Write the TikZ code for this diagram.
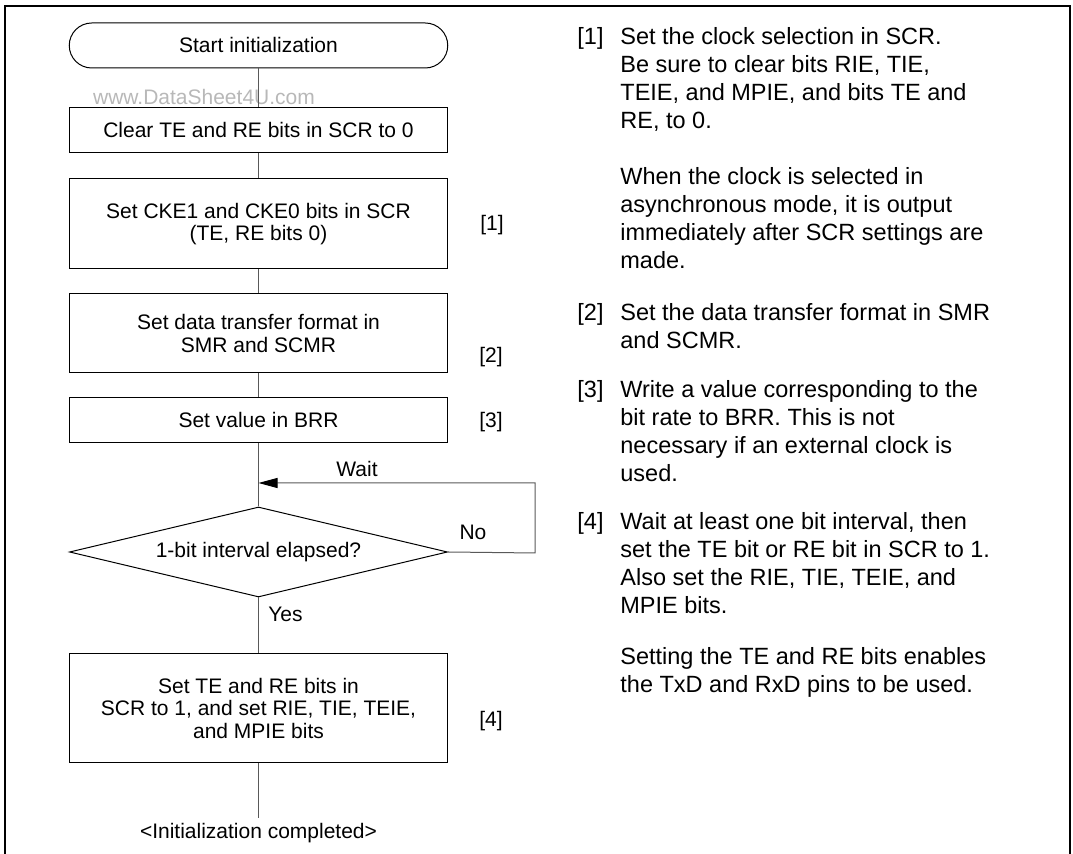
\documentclass[tikz,border=0pt]{standalone}
\usepackage{fontspec}
\setmainfont{Liberation Sans}
\usetikzlibrary{shapes.geometric, arrows.meta}

\tikzset{
    flowtext/.style={font=\fontsize{10.5}{11.2}\selectfont, align=center},
    procbox/.style={draw=black, line width=0.5pt, minimum width=189.25pt, inner sep=0pt, flowtext},
    flowline/.style={draw=black!65, line width=0.5pt},
    notetext/.style={font=\fontsize{11.75}{14}\selectfont, align=left, inner sep=0pt, anchor=north west},
}

\begin{document}
\begin{tikzpicture}[x=0.5pt, y=-0.5pt]
    \useasboundingbox (0,0) rectangle (1073,854);
    
    % frame, open at the bottom
    \draw[line width=1.25pt] (5,854) -- (5,6) -- (1070,6) -- (1070,854);
    
    \node[flowtext, text=black!28, inner sep=0pt] (wm) at (204,97) {www.DataSheet4U.com};
    
    % flow steps
    \node[procbox, rounded corners=11.25pt, minimum height=22.5pt] (start) at (258.5,45.5) {Start initialization};
    \node[procbox, minimum height=22.5pt] (clear) at (258.5,130.5) {Clear TE and RE bits in SCR to 0};
    \node[procbox, minimum height=45pt] (cke) at (258.5,224) {Set CKE1 and CKE0 bits in SCR\\(TE, RE bits 0)};
    \node[procbox, minimum height=39.5pt] (fmt) at (258.5,333.5) {Set data transfer format in\\SMR and SCMR};
    \node[procbox, minimum height=22.5pt] (brr) at (258.5,420.5) {Set value in BRR};
    \node[diamond, draw=black, line width=0.5pt, aspect=4.2, minimum width=189pt, minimum height=45pt,
          inner sep=0pt, flowtext] (elapsed) at (258.5,552) {1-bit interval elapsed?};
    \node[procbox, minimum height=54.5pt] (setbits) at (258.5,708.5) {Set TE and RE bits in\\SCR to 1, and set RIE, TIE, TEIE,\\and MPIE bits};
    \node[flowtext, inner sep=2.5pt] (done) at (258.5,833) {<Initialization completed>};
    
    \draw[flowline] (start) -- (clear);
    \draw[flowline] (clear) -- (cke);
    \draw[flowline] (cke) -- (fmt);
    \draw[flowline] (fmt) -- (brr);
    \draw[flowline] (brr) -- (elapsed);
    \draw[flowline] (elapsed) -- (setbits);
    \draw[flowline] (setbits) -- (done);
    
    % wait loop
    \coordinate (waitjoin) at (258.5,483);
    \coordinate (loopright) at (535,553);
    \draw[flowline, -{Triangle[length=9.5pt, width=5pt, color=black]}] (elapsed.east) -- (loopright) |- (waitjoin);
    
    \node[flowtext] (waitlbl) at (357,469) {Wait};
    \node[flowtext] (nolbl) at (473,532) {No};
    \node[flowtext, anchor=west, inner sep=0pt] (yeslbl) at (268,614) {Yes};
    
    \node[flowtext] (lbl1) at (492,225) {[1]};
    \node[flowtext] (lbl2) at (491,357) {[2]};
    \node[flowtext] (lbl3) at (491,422) {[3]};
    \node[flowtext] (lbl4) at (491,721) {[4]};
    
    % notes
    \node[notetext] (note1) at (577,27) {[1]};
    \node[notetext] (note1a) at (620,27) {Set the clock selection in SCR.\\Be sure to clear bits RIE, TIE,\\TEIE, and MPIE, and bits TE and\\RE, to 0.};
    \node[notetext] (note1b) at (620,167) {When the clock is selected in\\asynchronous mode, it is output\\immediately after SCR settings are\\made.};
    \node[notetext] (note2) at (577,303) {[2]};
    \node[notetext] (note2a) at (620,303) {Set the data transfer format in SMR\\and SCMR.};
    \node[notetext] (note3) at (577,380) {[3]};
    \node[notetext] (note3a) at (620,380) {Write a value corresponding to the\\bit rate to BRR. This is not\\necessary if an external clock is\\used.};
    \node[notetext] (note4) at (577,512) {[4]};
    \node[notetext] (note4a) at (620,512) {Wait at least one bit interval, then\\set the TE bit or RE bit in SCR to 1.\\Also set the RIE, TIE, TEIE, and\\MPIE bits.};
    \node[notetext] (note4b) at (620,647) {Setting the TE and RE bits enables\\the TxD and RxD pins to be used.};
\end{tikzpicture}
\end{document}
